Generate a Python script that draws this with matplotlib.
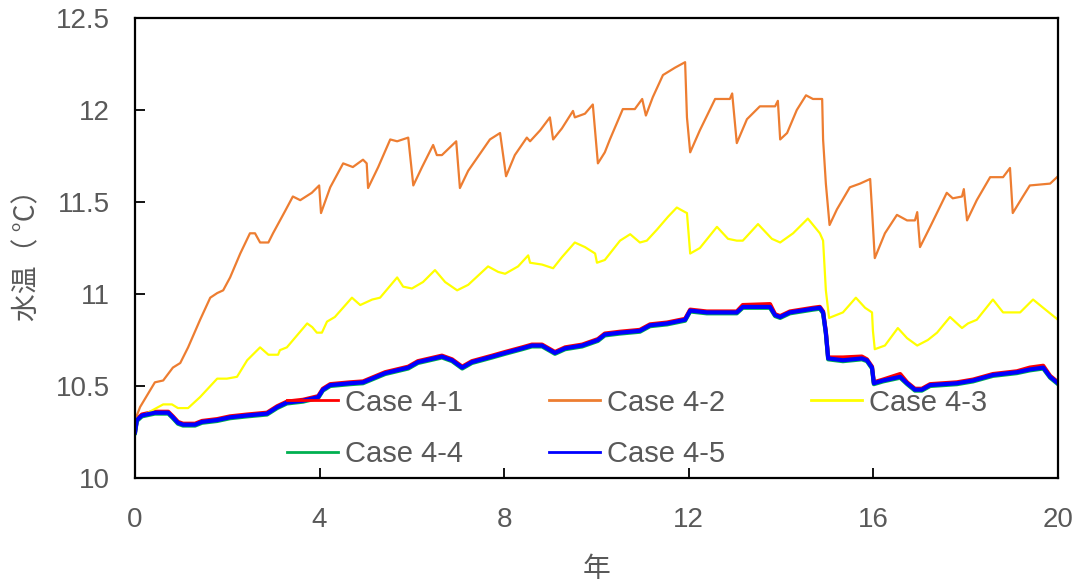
import matplotlib
matplotlib.use("Agg")
import matplotlib.pyplot as plt

plt.rcParams['font.family'] = ['Liberation Sans', 'Noto Sans CJK JP', 'DejaVu Sans']

# Case 4-2 (orange)
x42 = [0, 0.11, 0.43, 0.61, 0.82, 0.98, 1.15, 1.41, 1.63, 1.78, 1.91, 2.06, 2.28, 2.49,
       2.6, 2.71, 2.89, 2.99, 3.25, 3.42, 3.58, 3.83, 3.99, 4.03, 4.23, 4.51, 4.72, 4.94,
       5.02, 5.05, 5.27, 5.53, 5.68, 5.92, 6.03, 6.22, 6.46, 6.54, 6.65, 6.96, 7.04, 7.22,
       7.69, 7.91, 8.04, 8.23, 8.49, 8.56, 8.78, 8.99, 9.06, 9.25, 9.49, 9.53, 9.75, 9.92,
       10.03, 10.18, 10.29, 10.57, 10.83, 10.99, 11.07, 11.22, 11.44, 11.70, 11.92, 11.96,
       12.03, 12.24, 12.57, 12.89, 12.94, 13.04, 13.26, 13.54, 13.87, 13.93, 13.98, 14.13,
       14.34, 14.54, 14.69, 14.89, 14.91, 14.97, 15.05, 15.21, 15.49, 15.71, 15.93, 15.97,
       16.03, 16.25, 16.51, 16.73, 16.90, 16.95, 17.01, 17.23, 17.59, 17.72, 17.92, 17.96,
       18.03, 18.24, 18.53, 18.81, 18.96, 19.02, 19.24, 19.39, 19.83, 20.0]
y42 = [10.315, 10.386, 10.52, 10.53, 10.60, 10.625, 10.71, 10.86, 10.98, 11.005, 11.02,
       11.09, 11.22, 11.33, 11.33, 11.28, 11.28, 11.33, 11.45, 11.53, 11.51, 11.55, 11.59,
       11.44, 11.58, 11.71, 11.69, 11.73, 11.71, 11.576, 11.69, 11.84, 11.83, 11.85, 11.59,
       11.69, 11.81, 11.755, 11.755, 11.83, 11.576, 11.67, 11.84, 11.875, 11.64, 11.755,
       11.85, 11.83, 11.89, 11.96, 11.84, 11.90, 11.995, 11.96, 11.98, 12.03, 11.71, 11.77,
       11.84, 12.005, 12.005, 12.06, 11.97, 12.07, 12.19, 12.23, 12.26, 11.96, 11.77, 11.89,
       12.06, 12.06, 12.09, 11.82, 11.95, 12.02, 12.02, 12.05, 11.84, 11.875, 12.00, 12.08,
       12.06, 12.06, 11.84, 11.60, 11.375, 11.46, 11.58, 11.60, 11.625, 11.46, 11.195, 11.33,
       11.43, 11.40, 11.40, 11.445, 11.255, 11.365, 11.55, 11.52, 11.53, 11.57, 11.40, 11.51,
       11.635, 11.635, 11.685, 11.44, 11.53, 11.59, 11.60, 11.64]

# Case 4-3 (yellow)
x43 = [0, 0.39, 0.61, 0.80, 0.93, 1.15, 1.41, 1.78, 1.99, 2.21, 2.43, 2.71, 2.89, 3.10,
       3.14, 3.29, 3.73, 3.84, 3.94, 4.05, 4.16, 4.33, 4.70, 4.88, 5.14, 5.31, 5.68, 5.81,
       6.00, 6.24, 6.50, 6.72, 6.98, 7.22, 7.65, 7.87, 8.02, 8.30, 8.52, 8.56, 8.82, 9.06,
       9.25, 9.53, 9.75, 9.97, 10.01, 10.18, 10.29, 10.51, 10.73, 10.94, 11.09, 11.31,
       11.55, 11.74, 11.92, 11.96, 12.03, 12.24, 12.61, 12.85, 13.04, 13.17, 13.50, 13.80,
       13.98, 14.26, 14.58, 14.84, 14.91, 14.97, 15.04, 15.34, 15.62, 15.82, 15.97, 15.99,
       16.03, 16.25, 16.53, 16.73, 16.95, 17.18, 17.38, 17.66, 17.92, 18.05, 18.24, 18.59,
       18.81, 19.02, 19.18, 19.46, 19.68, 20.0]
y43 = [10.315, 10.37, 10.40, 10.40, 10.38, 10.38, 10.44, 10.54, 10.54, 10.55, 10.64,
       10.71, 10.67, 10.67, 10.695, 10.71, 10.84, 10.82, 10.79, 10.79, 10.85, 10.875, 10.98,
       10.94, 10.97, 10.98, 11.09, 11.04, 11.03, 11.065, 11.13, 11.065, 11.02, 11.05, 11.15,
       11.12, 11.11, 11.15, 11.21, 11.17, 11.16, 11.14, 11.20, 11.28, 11.255, 11.22, 11.17,
       11.185, 11.22, 11.29, 11.325, 11.28, 11.29, 11.35, 11.42, 11.47, 11.445, 11.44, 11.22,
       11.25, 11.365, 11.30, 11.29, 11.29, 11.38, 11.30, 11.28, 11.33, 11.41, 11.33, 11.29,
       11.02, 10.87, 10.90, 10.98, 10.925, 10.90, 10.80, 10.70, 10.72, 10.815, 10.76, 10.72,
       10.75, 10.79, 10.875, 10.815, 10.84, 10.86, 10.97, 10.90, 10.90, 10.90, 10.97, 10.925,
       10.86]

# Case 4-5 (blue); 4-1 and 4-4 sit almost on top of it
x45 = [0, 0.04, 0.15, 0.43, 0.72, 0.82, 0.93, 1.04, 1.30, 1.45, 1.78, 2.06, 2.43, 2.86,
       3.08, 3.29, 3.64, 3.97, 4.07, 4.23, 4.66, 4.94, 5.42, 5.92, 6.13, 6.65, 6.87, 7.09,
       7.30, 7.74, 8.02, 8.39, 8.60, 8.82, 9.10, 9.32, 9.69, 10.03, 10.18, 10.51, 10.94,
       11.16, 11.53, 11.92, 12.03, 12.39, 13.04, 13.17, 13.76, 13.87, 13.98, 14.19, 14.69,
       14.84, 14.91, 14.97, 15.02, 15.34, 15.75, 15.86, 15.97, 16.01, 16.21, 16.58, 16.73,
       16.90, 17.05, 17.23, 17.81, 18.16, 18.59, 19.11, 19.39, 19.68, 19.83, 20.0]
y45 = [10.25, 10.315, 10.34, 10.355, 10.355, 10.33, 10.30, 10.29, 10.29, 10.305, 10.315,
       10.33, 10.34, 10.35, 10.385, 10.41, 10.42, 10.44, 10.48, 10.505, 10.515, 10.52, 10.57,
       10.60, 10.63, 10.66, 10.64, 10.60, 10.63, 10.66, 10.68, 10.705, 10.72, 10.72, 10.68,
       10.705, 10.72, 10.75, 10.78, 10.79, 10.80, 10.83, 10.84, 10.86, 10.91, 10.90, 10.90,
       10.93, 10.93, 10.885, 10.875, 10.90, 10.92, 10.925, 10.90, 10.79, 10.65, 10.64, 10.65,
       10.64, 10.60, 10.515, 10.53, 10.55, 10.515, 10.48, 10.48, 10.505, 10.515, 10.53,
       10.56, 10.575, 10.59, 10.60, 10.55, 10.515]
y41 = [10.25, 10.32, 10.345, 10.36, 10.36, 10.335, 10.305, 10.295, 10.295, 10.31, 10.32,
       10.335, 10.345, 10.355, 10.39, 10.415, 10.425, 10.445, 10.485, 10.51, 10.52, 10.525,
       10.575, 10.605, 10.635, 10.665, 10.645, 10.605, 10.635, 10.665, 10.685, 10.71, 10.725,
       10.725, 10.685, 10.71, 10.725, 10.755, 10.785, 10.795, 10.805, 10.835, 10.845, 10.865,
       10.915, 10.905, 10.905, 10.94, 10.945, 10.89, 10.88, 10.905, 10.925, 10.93, 10.905,
       10.795, 10.655, 10.655, 10.66, 10.645, 10.605, 10.52, 10.535, 10.565, 10.52, 10.485,
       10.485, 10.51, 10.52, 10.535, 10.565, 10.58, 10.6, 10.61, 10.555, 10.52]
y44 = [10.245, 10.31, 10.335, 10.35, 10.35, 10.325, 10.295, 10.285, 10.285, 10.3, 10.31,
       10.325, 10.335, 10.345, 10.38, 10.405, 10.415, 10.435, 10.475, 10.5, 10.51, 10.515,
       10.565, 10.595, 10.625, 10.655, 10.635, 10.595, 10.625, 10.655, 10.675, 10.7, 10.715,
       10.715, 10.675, 10.7, 10.715, 10.745, 10.775, 10.785, 10.795, 10.825, 10.835, 10.855,
       10.905, 10.895, 10.895, 10.925, 10.925, 10.88, 10.87, 10.895, 10.915, 10.92, 10.895,
       10.785, 10.645, 10.635, 10.645, 10.635, 10.595, 10.51, 10.525, 10.545, 10.51, 10.475,
       10.475, 10.5, 10.51, 10.525, 10.555, 10.57, 10.585, 10.595, 10.545, 10.51]

labels = ['Case 4-1', 'Case 4-2', 'Case 4-3', 'Case 4-4', 'Case 4-5']
colors = ['#FF0000', '#ED7D31', '#FFFF00', '#00B050', '#0000FF']
gray = '#595959'

fig = plt.figure(figsize=(10.82, 5.85), dpi=100)
ax = fig.add_axes([0.1248, 0.1829, 0.8530, 0.7863])

h41, = ax.plot(x45, y41, color=colors[0], lw=3, label=labels[0])
h42, = ax.plot(x42, y42, color=colors[1], lw=1.6, label=labels[1])
h43, = ax.plot(x43, y43, color=colors[2], lw=1.6, label=labels[2])
h44, = ax.plot(x45, y44, color=colors[3], lw=3, label=labels[3])
h45, = ax.plot(x45, y45, color=colors[4], lw=3, label=labels[4])

ax.set_xlim(0, 20)
ax.set_ylim(10, 12.5)
ax.set_xticks([0, 4, 8, 12, 16, 20])
ax.set_yticks([10, 10.5, 11, 11.5, 12, 12.5])
ax.set_yticklabels(['10', '10.5', '11', '11.5', '12', '12.5'])
ax.tick_params(axis='x', direction='in', length=7, width=1.3, pad=21,
               labelsize=20, labelcolor=gray)
ax.tick_params(axis='y', direction='in', length=7, width=1.3, pad=18,
               labelsize=20, labelcolor=gray)
for s in ax.spines.values():
    s.set_linewidth(1.6)
    s.set_color('black')

ax.set_xlabel('年', fontsize=20, color=gray, family=['Noto Sans CJK JP'], labelpad=15)
ax.set_ylabel('水温（ °C）', fontsize=20, color=gray, family=['Noto Sans CJK JP', 'DejaVu Sans'],
              labelpad=10)

# legend fills column by column, so order the handles to read row by row
leg = ax.legend(handles=[h41, h44, h42, h45, h43], ncol=3, loc='lower left',
                bbox_to_anchor=(0.136, -0.035), frameon=False, fontsize=21,
                handlelength=1.75, handletextpad=0.25, columnspacing=2.93,
                labelspacing=0.8, labelcolor=gray)
for ln in leg.get_lines():
    ln.set_linewidth(2)

fig.savefig('out.png', dpi=100)
